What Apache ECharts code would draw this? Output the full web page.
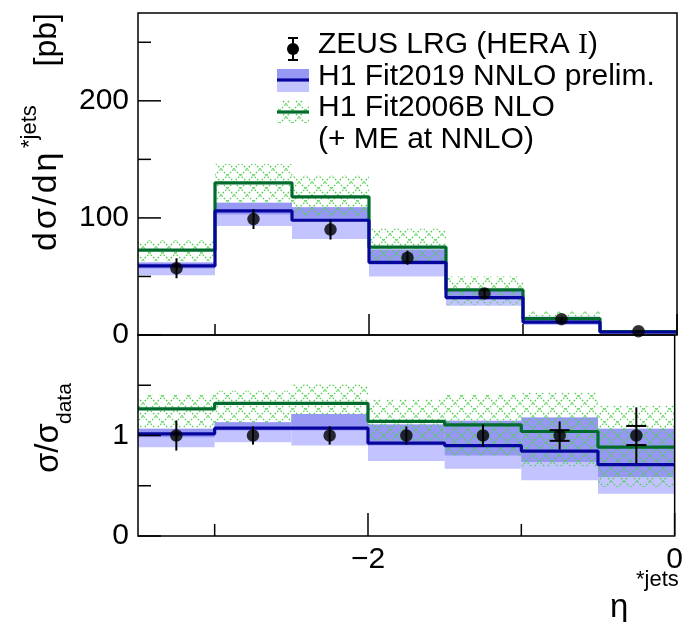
<!DOCTYPE html>
<html><head><meta charset="utf-8">
<script src="https://cdn.jsdelivr.net/npm/echarts@6/dist/echarts.min.js"></script>
<style>html,body{margin:0;padding:0;background:#fff}#c{width:686px;height:622px}</style>
</head><body><div id="c"></div>
<script>
// ---------- data ----------
const binEdges   = [-3.5, -3, -2.5, -2, -1.5, -1, -0.5, 0];
const binCenters = [-3.25, -2.75, -2.25, -1.75, -1.25, -0.75, -0.25];

// upper panel: dsigma/deta [pb]
const zeusXsec       = [57, 99, 90, 66, 35.5, 13.5, 3.2];
const zeusXsecErr    = [8.5, 8.5, 8.5, 6, 4, 2, 1];
const fit2019Xsec    = [59, 106, 98, 62, 32, 11, 2.5];
const fit2019OuterLo = [51, 93, 82, 50, 25, 8.5, 1.6];
const fit2019InnerLo = [56.7, 103, 97, 60, 30.5, 9.5, 2.1];
const fit2019Hi      = [62, 113, 109, 73, 39, 15.5, 3.4];
const fit2006Xsec    = [72.5, 130, 118, 75, 38.5, 14, 3];
const fit2006Lo      = [63, 113, 102, 60, 26, 9.5, 1.7];
const fit2006Hi      = [81, 146, 136, 91, 50, 20, 4.4];

// lower panel: ratio to data
const zeusRatio        = [1, 1, 1, 1, 1, 1, 1];
const zeusRatioErr     = [0.15, 0.09, 0.09, 0.09, 0.11, 0.14, 0.28];
const zeusRatioStatErr = [0, 0, 0, 0, 0, 0.053, 0.095];
const fit2019Ratio     = [1.017, 1.073, 1.073, 0.924, 0.9, 0.845, 0.71];
const fit2019RatioOuterLo = [0.884, 0.934, 0.9, 0.746, 0.67, 0.554, 0.42];
const fit2019RatioInnerLo = [0.983, 1.05, 1.05, 0.9, 0.8, 0.736, 0.587];
const fit2019RatioHi      = [1.066, 1.132, 1.215, 1.109, 1.148, 1.18, 1.066];
const fit2006Ratio     = [1.264, 1.32, 1.32, 1.14, 1.105, 1.04, 0.884];
const fit2006RatioLo   = [1.08, 1.13, 1.21, 0.93, 0.8, 0.69, 0.49];
const fit2006RatioHi   = [1.41, 1.445, 1.51, 1.36, 1.41, 1.43, 1.3];

// axes ranges and ticks
const xRange = [-3.5, 0];
const yTopRange = [0, 275];
const yBotRange = [0, 2];
const xMajorTicks = [-2, 0];
const xMinorTicks = [-3, -1];
const xTickLabels = [-2, 0];
const yTopMajor = [0, 100, 200];
const yTopMinor = [50, 150, 250];
const yTopLabels = [0, 100, 200];
const yBotMajor = [0, 1];
const yBotMinor = [0.5, 1.5];
const yBotLabels = [0, 1];

// ---------- styles ----------
const FONT = '"Liberation Sans", Arial, Helvetica, sans-serif';
const BLUE = '#06069c', GREEN = '#006b2c';
const BAND_LIGHT = '#c3c3ff', BAND_DARK = '#9797f4';

function makeHatch() {
  const s = 13, c = document.createElement('canvas');
  c.width = s; c.height = s;
  const g = c.getContext('2d');
  g.strokeStyle = '#4fd04f'; g.lineWidth = 1.2; g.setLineDash([1.8, 1.6]);
  g.beginPath();
  g.moveTo(-2, -2); g.lineTo(s + 2, s + 2);
  g.moveTo(s + 2, -2); g.lineTo(-2, s + 2);
  g.stroke();
  return c;
}
const HATCH = { image: makeHatch(), repeat: 'repeat' };

function band(lo, hi, fill, gi, z) {
  return {
    type: 'custom', xAxisIndex: gi, yAxisIndex: gi, z, silent: true, animation: false,
    data: lo.map((v, i) => [binEdges[i], binEdges[i + 1], v, hi[i]]),
    encode: { x: [0, 1], y: [2, 3] },
    renderItem: (p, api) => {
      const a = api.coord([api.value(0), api.value(3)]);
      const b = api.coord([api.value(1), api.value(2)]);
      return { type: 'rect', shape: { x: a[0], y: a[1], width: b[0] - a[0], height: b[1] - a[1] }, style: { fill } };
    }
  };
}
function step(vals, color, gi, z) {
  const d = vals.map((v, i) => [binEdges[i], v]);
  d.push([binEdges[binEdges.length - 1], vals[vals.length - 1]]);
  return { type: 'line', step: 'end', data: d, xAxisIndex: gi, yAxisIndex: gi, z, symbol: 'none',
    lineStyle: { color, width: 3.2 }, animation: false, silent: true };
}
function errBars(vals, errs, stat, gi, z) {
  return {
    type: 'custom', xAxisIndex: gi, yAxisIndex: gi, z, silent: true, animation: false,
    data: vals.map((v, i) => [binCenters[i], v, errs[i], stat ? stat[i] : 0]),
    encode: { x: 0, y: 1 },
    renderItem: (p, api) => {
      const x = api.value(0), y = api.value(1), e = api.value(2), s = api.value(3);
      const t = api.coord([x, y + e]), b = api.coord([x, y - e]);
      const st = { stroke: '#000', lineWidth: 2 };
      const ch = [{ type: 'line', shape: { x1: t[0], y1: t[1], x2: b[0], y2: b[1] }, style: st }];
      if (s > 0) {
        const u = api.coord([x, y + s]), d = api.coord([x, y - s]);
        ch.push({ type: 'line', shape: { x1: u[0] - 10, y1: u[1], x2: u[0] + 10, y2: u[1] }, style: st });
        ch.push({ type: 'line', shape: { x1: d[0] - 10, y1: d[1], x2: d[0] + 10, y2: d[1] }, style: st });
      }
      return { type: 'group', children: ch };
    }
  };
}
function points(vals, gi, z) {
  return { type: 'scatter', data: vals.map((v, i) => [binCenters[i], v]), xAxisIndex: gi, yAxisIndex: gi, z,
    symbol: 'circle', symbolSize: 12.5, itemStyle: { color: '#000' }, animation: false, silent: true };
}
// frame + inward ticks, placed through the axes' own coordinate mapping
function frameTicks(gi, yRange, xMajLen, xMinLen, yMajor, yMinor, yMajLen, yMinLen) {
  const items = [[2, 0, 0]]
    .concat(xMajorTicks.map(v => [0, v, xMajLen]), xMinorTicks.map(v => [0, v, xMinLen]),
            yMajor.map(v => [1, v, yMajLen]), yMinor.map(v => [1, v, yMinLen]));
  return {
    type: 'custom', xAxisIndex: gi, yAxisIndex: gi, z: 20, silent: true, animation: false, clip: false,
    data: items, encode: { x: -1, y: -1 },
    renderItem: (p, api) => {
      const kind = api.value(0), v = api.value(1), len = api.value(2);
      const st = { stroke: '#000', lineWidth: 1.5, fill: null };
      if (kind === 2) {
        const a = api.coord([xRange[0], yRange[1]]), b = api.coord([xRange[1], yRange[0]]);
        return { type: 'rect', shape: { x: a[0], y: a[1], width: b[0] - a[0], height: b[1] - a[1] }, style: st };
      }
      if (kind === 1) {
        const q = api.coord([xRange[0], v]);
        return { type: 'line', shape: { x1: q[0], y1: q[1], x2: q[0] + len, y2: q[1] }, style: st };
      }
      const q = api.coord([v, yRange[0]]);
      return { type: 'line', shape: { x1: q[0], y1: q[1], x2: q[0], y2: q[1] - len }, style: st };
    }
  };
}

function xAx(gi, labels) {
  return { gridIndex: gi, type: 'value', min: xRange[0], max: xRange[1], position: 'bottom',
    axisLine: { show: false }, axisTick: { show: false }, splitLine: { show: false },
    axisLabel: labels ? { show: true, customValues: labels, margin: 9, fontFamily: FONT, fontSize: 30, color: '#000',
      formatter: v => (v < 0 ? '\u2212' + Math.abs(v) : String(v)) } : { show: false } };
}
function yAx(gi, range, labels) {
  return { gridIndex: gi, type: 'value', min: range[0], max: range[1], position: 'left',
    axisLine: { show: false }, axisTick: { show: false }, splitLine: { show: false },
    axisLabel: { show: true, customValues: labels, margin: 9, fontFamily: FONT, fontSize: 30, color: '#000' } };
}

const txt = (text, x, y, size, extra) => ({ type: 'text', x, y, z: 30,
  style: Object.assign({ text, font: size + 'px ' + FONT, fill: '#000', textAlign: 'left', textVerticalAlign: 'middle' }, extra || {}) });
const rot = el => Object.assign(el, { rotation: Math.PI / 2 });

const chart = echarts.init(document.getElementById('c'), null, { renderer: 'canvas' });
chart.setOption({
  animation: false,
  backgroundColor: '#fff',
  grid: [
    { left: 138, right: 9, top: 13, height: 322 },
    { left: 138, right: 9, top: 335, height: 201 }
  ],
  xAxis: [xAx(0, null), xAx(1, xTickLabels)],
  yAxis: [yAx(0, yTopRange, yTopLabels), yAx(1, yBotRange, yBotLabels)],
  series: [
    band(fit2019OuterLo, fit2019Hi, BAND_LIGHT, 0, 1),
    band(fit2019InnerLo, fit2019Hi, BAND_DARK, 0, 2),
    band(fit2006Lo, fit2006Hi, HATCH, 0, 3),
    step(fit2006Xsec, GREEN, 0, 4),
    step(fit2019Xsec, BLUE, 0, 5),
    errBars(zeusXsec, zeusXsecErr, null, 0, 6),
    points(zeusXsec, 0, 7),
    frameTicks(0, yTopRange, 21, 11, yTopMajor, yTopMinor, 23, 13),

    band(fit2019RatioOuterLo, fit2019RatioHi, BAND_LIGHT, 1, 1),
    band(fit2019RatioInnerLo, fit2019RatioHi, BAND_DARK, 1, 2),
    band(fit2006RatioLo, fit2006RatioHi, HATCH, 1, 3),
    step(fit2006Ratio, GREEN, 1, 4),
    step(fit2019Ratio, BLUE, 1, 5),
    errBars(zeusRatio, zeusRatioErr, zeusRatioStatErr, 1, 6),
    points(zeusRatio, 1, 7),
    frameTicks(1, yBotRange, 23, 12, yBotMajor, yBotMinor, 23, 13)
  ],
  graphic: { elements: [
    // y title upper
    rot(txt('d\u200a\u03c3\u200a/\u200ad\u200a\u03b7', 47, 251, 34)),
    rot(txt('*jets', 30, 148, 22)),
    rot(txt('[pb]', 47, 13, 32, { textAlign: 'right' })),
    // y title lower
    rot(txt('\u03c3/\u03c3', 49, 473, 33)),
    rot(txt('data', 65, 424, 21)),
    // x title
    txt('\u03b7', 610, 608, 33),
    txt('*jets', 636, 580, 22),
    // legend
    { type: 'line', z: 30, shape: { x1: 293, y1: 38, x2: 293, y2: 60 }, style: { stroke: '#000', lineWidth: 2 } },
    { type: 'line', z: 30, shape: { x1: 288, y1: 38, x2: 298, y2: 38 }, style: { stroke: '#000', lineWidth: 2 } },
    { type: 'line', z: 30, shape: { x1: 288, y1: 60, x2: 298, y2: 60 }, style: { stroke: '#000', lineWidth: 2 } },
    { type: 'circle', z: 31, shape: { cx: 293, cy: 49, r: 6 }, style: { fill: '#000' } },
    txt('ZEUS LRG (HERA {s|I})', 318, 45, 30, { rich: { s: { fontFamily: '"Liberation Serif", serif', fontSize: 30 } } }),
    { type: 'rect', z: 30, shape: { x: 277, y: 69, width: 32, height: 23 }, style: { fill: BAND_LIGHT } },
    { type: 'rect', z: 30, shape: { x: 277, y: 69, width: 32, height: 12 }, style: { fill: BAND_DARK } },
    { type: 'line', z: 31, shape: { x1: 277, y1: 80, x2: 309, y2: 80 }, style: { stroke: BLUE, lineWidth: 3.2 } },
    txt('H1 Fit2019 NNLO prelim.', 318, 77, 30),
    { type: 'rect', z: 30, shape: { x: 277, y: 100, width: 32, height: 23 }, style: { fill: HATCH } },
    { type: 'line', z: 31, shape: { x1: 277, y1: 112, x2: 309, y2: 112 }, style: { stroke: GREEN, lineWidth: 3.2 } },
    txt('H1 Fit2006B NLO', 318, 108, 30),
    txt('(+ ME at NNLO)', 318, 140, 30)
  ] }
});
</script></body></html>
